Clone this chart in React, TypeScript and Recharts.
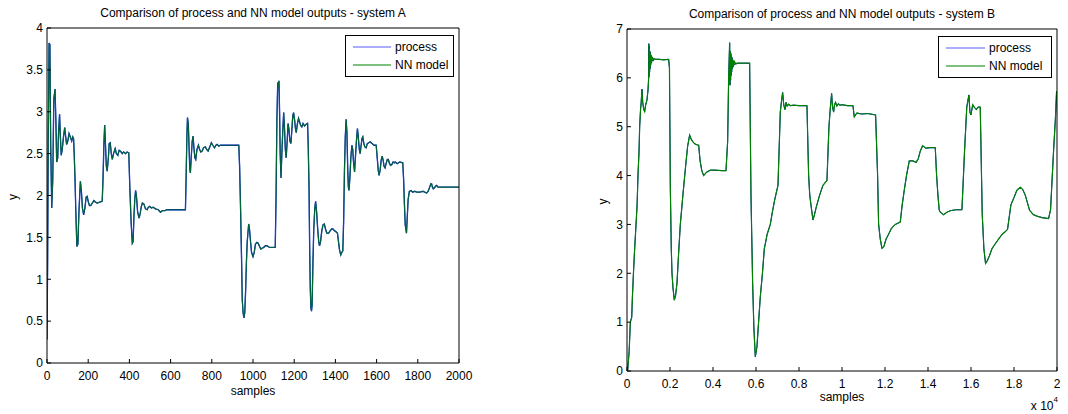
import { Label, Legend, Line, LineChart, XAxis, YAxis } from "recharts";

const FONT = "'Liberation Sans', Arial, Helvetica, sans-serif";

// system A (2000 samples)
const samplesA = [
  0, 3, 6, 10, 14, 18, 23, 28, 33, 39, 43, 47, 52, 56, 61, 65, 69, 74, 80, 86,
  90, 95, 101, 107, 113, 120, 125, 129, 132, 136, 140, 145, 150, 155, 162, 167, 172, 178, 184, 190,
  195, 200, 206, 212, 220, 228, 236, 244, 255, 268, 272, 276, 280, 284, 288, 292, 298, 302, 307, 312,
  317, 323, 331, 337, 344, 350, 357, 365, 372, 381, 389, 397, 402, 408, 414, 418, 422, 426, 430, 434,
  440, 447, 452, 458, 463, 470, 478, 486, 492, 499, 507, 515, 527, 540, 551, 560, 572, 583, 620, 650,
  672, 676, 679, 682, 686, 690, 693, 696, 700, 705, 709, 714, 718, 722, 728, 735, 741, 747, 753, 760,
  769, 775, 782, 790, 798, 805, 813, 820, 826, 834, 842, 931, 935, 940, 944, 948, 952, 956, 960, 964,
  968, 972, 979, 983, 988, 993, 1000, 1006, 1012, 1019, 1025, 1032, 1038, 1044, 1052, 1060, 1068, 1080, 1095, 1108,
  1112, 1116, 1120, 1123, 1126, 1129, 1132, 1136, 1140, 1145, 1149, 1153, 1157, 1161, 1166, 1170, 1174, 1179, 1184, 1189,
  1193, 1197, 1202, 1206, 1210, 1215, 1221, 1226, 1231, 1237, 1243, 1250, 1258, 1265, 1268, 1272, 1275, 1278, 1281, 1284,
  1287, 1291, 1295, 1300, 1304, 1309, 1314, 1319, 1323, 1328, 1334, 1340, 1346, 1352, 1358, 1367, 1375, 1382, 1388, 1395,
  1402, 1410, 1415, 1420, 1426, 1431, 1436, 1440, 1444, 1448, 1452, 1456, 1460, 1463, 1466, 1470, 1475, 1480, 1484, 1488,
  1493, 1497, 1502, 1507, 1511, 1516, 1520, 1525, 1529, 1533, 1538, 1543, 1549, 1555, 1562, 1569, 1578, 1588, 1598, 1603,
  1608, 1612, 1617, 1622, 1627, 1632, 1636, 1641, 1646, 1652, 1657, 1663, 1668, 1674, 1680, 1686, 1690, 1700, 1712, 1727,
  1731, 1735, 1739, 1742, 1745, 1749, 1753, 1759, 1767, 1775, 1785, 1795, 1810, 1825, 1843, 1850, 1858, 1863, 1867, 1871,
  1875, 1880, 1886, 1892, 1898, 1905, 1916, 1950, 2000,
];
const outputA = [
  0.28, 1.2, 2.6, 3.82, 3.8, 2.6, 1.85, 2.2, 3.15, 3.27, 2.9, 2.4, 2.45, 2.75, 2.97, 2.7, 2.48, 2.55, 2.7, 2.81,
  2.72, 2.61, 2.65, 2.74, 2.7, 2.65, 2.7, 2.68, 2.5, 2.2, 1.8, 1.39, 1.42, 1.8, 2.17, 2.05, 1.85, 1.77, 1.85, 1.98,
  1.99, 1.93, 1.88, 1.88, 1.91, 1.94, 1.92, 1.91, 1.92, 1.93, 2.2, 2.6, 2.84, 2.6, 2.35, 2.29, 2.45, 2.62, 2.63, 2.5,
  2.43, 2.5, 2.56, 2.5, 2.48, 2.54, 2.53, 2.5, 2.52, 2.5, 2.52, 2.51, 2.1, 1.7, 1.43, 1.45, 1.75, 1.95, 2.06, 2.0,
  1.8, 1.73, 1.78, 1.87, 1.91, 1.9, 1.84, 1.83, 1.86, 1.87, 1.85, 1.86, 1.84, 1.83, 1.8, 1.82, 1.82, 1.83, 1.83, 1.83,
  1.83, 2.3, 2.7, 2.93, 2.85, 2.55, 2.32, 2.27, 2.45, 2.65, 2.71, 2.55, 2.45, 2.43, 2.55, 2.6, 2.55, 2.52, 2.53, 2.57,
  2.58, 2.55, 2.53, 2.58, 2.63, 2.6, 2.57, 2.6, 2.61, 2.59, 2.6, 2.6, 2.35, 1.8, 1.3, 0.75, 0.6, 0.54, 0.6, 0.85,
  1.2, 1.45, 1.66, 1.6, 1.45, 1.32, 1.27, 1.32, 1.42, 1.44, 1.43, 1.39, 1.36, 1.37, 1.38, 1.4, 1.4, 1.38, 1.38, 1.38,
  2.0, 2.9, 3.35, 3.3, 3.37, 3.0, 2.5, 2.21, 2.5, 2.8, 2.99, 2.8, 2.55, 2.45, 2.65, 2.86, 2.8, 2.65, 2.62, 2.8,
  2.95, 2.99, 2.9, 2.8, 2.75, 2.85, 2.92, 2.88, 2.84, 2.82, 2.86, 2.83, 2.85, 2.86, 2.6, 2.1, 1.4, 0.9, 0.66, 0.62,
  0.7, 1.2, 1.6, 1.85, 1.93, 1.8, 1.6, 1.45, 1.4, 1.45, 1.58, 1.65, 1.66, 1.6, 1.55, 1.55, 1.58, 1.6, 1.6, 1.58,
  1.57, 1.55, 1.45, 1.35, 1.29, 1.32, 1.34, 1.7, 2.3, 2.7, 2.91, 2.75, 2.3, 2.1, 2.06, 2.2, 2.45, 2.6, 2.55, 2.4,
  2.28, 2.45, 2.65, 2.8, 2.7, 2.55, 2.5, 2.6, 2.68, 2.7, 2.62, 2.58, 2.57, 2.62, 2.63, 2.64, 2.62, 2.6, 2.6, 2.45,
  2.3, 2.24, 2.3, 2.42, 2.47, 2.42, 2.35, 2.33, 2.38, 2.43, 2.43, 2.38, 2.36, 2.37, 2.4, 2.39, 2.4, 2.38, 2.4, 2.39,
  2.2, 1.9, 1.65, 1.6, 1.55, 1.75, 1.95, 2.05, 2.06, 2.04, 2.05, 2.04, 2.04, 2.05, 2.03, 2.05, 2.1, 2.14, 2.14, 2.1,
  2.08, 2.09, 2.11, 2.12, 2.1, 2.1, 2.1, 2.1, 2.1,
];
const xTicksA = [0, 200, 400, 600, 800, 1000, 1200, 1400, 1600, 1800, 2000];
const yTicksA = [0, 0.5, 1, 1.5, 2, 2.5, 3, 3.5, 4];

// system B (20000 samples)
const samplesB = [
  0, 30, 100, 155, 220, 250, 300, 357, 420, 470, 512, 560, 589, 630, 660, 698, 730, 780, 822, 870,
  930, 977, 1008, 1015, 1022, 1030, 1037, 1044, 1051, 1058, 1066, 1074, 1082, 1090, 1100, 1110, 1120, 1132, 1145, 1160,
  1178, 1200, 1230, 1270, 1318, 1500, 1700, 1938, 1975, 2015, 2060, 2093, 2140, 2201, 2260, 2325, 2400, 2480, 2600, 2728,
  2820, 2914, 2980, 3050, 3147, 3250, 3333, 3400, 3480, 3565, 3700, 3875, 4100, 4418, 4604, 4681, 4728, 4774, 4790, 4805,
  4818, 4830, 4843, 4855, 4868, 4880, 4895, 4910, 4930, 4950, 4975, 5000, 5060, 5115, 5400, 5704, 5766, 5844, 5900, 5968,
  6045, 6120, 6200, 6300, 6386, 6520, 6665, 6760, 6867, 7022, 7080, 7130, 7180, 7239, 7290, 7347, 7400, 7450, 7520, 7600,
  7750, 8000, 8370, 8448, 8500, 8556, 8649, 8720, 8800, 8959, 9114, 9300, 9393, 9460, 9517, 9560, 9610, 9650, 9700, 9760,
  9830, 9900, 10000, 10250, 10509, 10571, 10640, 10695, 10900, 11200, 11563, 11656, 11703, 11780, 11858, 11950, 12050, 12168, 12300, 12478,
  12710, 12800, 12896, 13000, 13129, 13300, 13450, 13550, 13640, 13749, 13900, 14100, 14338, 14400, 14462, 14520, 14570, 14725, 14880, 15035,
  15300, 15578, 15700, 15803, 15903, 15950, 15996, 16080, 16150, 16250, 16330, 16430, 16523, 16600, 16678, 16750, 16850, 16973, 17120, 17283,
  17450, 17593, 17700, 17856, 18000, 18135, 18290, 18400, 18523, 18620, 18724, 18900, 19065, 19300, 19608, 19700, 19840, 19930, 19980, 20000,
];
const outputB = [
  0, 0.01, 0.4, 1.0, 1.1, 1.5, 2.0, 2.51, 3.0, 3.4, 4.01, 4.5, 5.0, 5.35, 5.5, 5.77, 5.5, 5.35, 5.31, 5.45,
  5.55, 5.75, 6.0, 6.7, 6.02, 6.65, 6.08, 6.6, 6.12, 6.55, 6.18, 6.52, 6.22, 6.5, 6.26, 6.47, 6.3, 6.45, 6.32, 6.42,
  6.35, 6.4, 6.36, 6.39, 6.38, 6.38, 6.37, 6.38, 6.2, 3.77, 2.5, 2.0, 1.7, 1.45, 1.55, 1.8, 2.4, 3.0, 3.6, 4.2,
  4.6, 4.83, 4.75, 4.7, 4.65, 4.63, 4.62, 4.3, 4.1, 4.0, 4.07, 4.11, 4.11, 4.1, 4.1, 4.7, 6.0, 6.72, 5.85, 6.55,
  5.95, 6.5, 6.05, 6.45, 6.12, 6.42, 6.18, 6.38, 6.22, 6.35, 6.26, 6.33, 6.28, 6.3, 6.3, 6.3, 3.6, 1.79, 0.9, 0.29,
  0.5, 1.0, 1.52, 2.0, 2.5, 2.8, 3.0, 3.25, 3.5, 3.8, 4.6, 5.3, 5.5, 5.7, 5.45, 5.35, 5.5, 5.42, 5.46, 5.43,
  5.44, 5.43, 5.43, 4.0, 3.6, 3.4, 3.09, 3.2, 3.35, 3.6, 3.8, 3.9, 5.0, 5.4, 5.68, 5.4, 5.3, 5.45, 5.5, 5.42,
  5.47, 5.44, 5.45, 5.43, 5.43, 5.2, 5.25, 5.28, 5.26, 5.27, 5.24, 4.0, 3.0, 2.7, 2.51, 2.55, 2.7, 2.8, 2.92, 3.0,
  3.05, 3.4, 3.7, 4.0, 4.3, 4.3, 4.27, 4.35, 4.5, 4.61, 4.56, 4.57, 4.57, 4.0, 3.6, 3.3, 3.25, 3.2, 3.25, 3.28,
  3.3, 3.3, 4.5, 5.4, 5.65, 5.3, 5.24, 5.45, 5.4, 5.35, 5.4, 5.4, 3.2, 2.5, 2.2, 2.25, 2.35, 2.5, 2.6, 2.7,
  2.8, 2.85, 2.9, 3.4, 3.55, 3.7, 3.76, 3.72, 3.6, 3.45, 3.29, 3.2, 3.17, 3.14, 3.12, 3.3, 4.5, 5.2, 5.72, 5.72,
];
const xTicksB = [0, 2000, 4000, 6000, 8000, 10000, 12000, 14000, 16000, 18000, 20000];
const yTicksB = [0, 1, 2, 3, 4, 5, 6, 7];

const PROCESS_COLOR = "#0000ff";
const MODEL_COLOR = "#008000";
const LEGEND_ORDER = ["process", "NN model"];

function toRows(samples: number[], ys: number[]) {
  return samples.map((s, i) => ({ sample: s, process: ys[i], model: ys[i] }));
}

const renderLegend = (width: number, lineLen: number) => (props: any) => {
  const items = [...(props.payload || [])].sort(
    (a: any, b: any) => LEGEND_ORDER.indexOf(a.value) - LEGEND_ORDER.indexOf(b.value)
  );
  return (
    <div
      style={{
        boxSizing: "border-box",
        width,
        height: 42,
        border: "1px solid #000",
        background: "#fff",
        padding: "2px 0 0 7px",
        fontFamily: FONT,
        fontSize: 12,
        color: "#000",
      }}
    >
      {items.map((p: any) => (
        <div key={p.value} style={{ display: "flex", alignItems: "center", height: 18 }}>
          <svg width={lineLen} height={4} style={{ display: "block" }}>
            <line
              x1={0}
              y1={2}
              x2={lineLen}
              y2={2}
              stroke={p.value === "process" ? "#5a5aff" : MODEL_COLOR}
              strokeWidth={1.2}
            />
          </svg>
          <span style={{ marginLeft: 4, lineHeight: "18px" }}>{p.value}</span>
        </div>
      ))}
    </div>
  );
};

const yLabel = (dx: number) => (props: any) => {
  const vb = props.viewBox;
  const cx = vb.x + dx;
  const cy = vb.y + vb.height / 2 + 1.5;
  return (
    <text
      x={cx}
      y={cy}
      transform={`rotate(-90 ${cx} ${cy})`}
      textAnchor="middle"
      dominantBaseline="central"
      fontSize={12}
      fill="#000"
    >
      y
    </text>
  );
};

const expLabel = (props: any) => {
  const vb = props.viewBox;
  return (
    <text x={vb.x + vb.width + 1} y={vb.y + 39} textAnchor="end" fontSize={12} fill="#000">
      x 10
      <tspan dy={-8} fontSize={8}>
        4
      </tspan>
    </text>
  );
};

function Panel({
  title,
  data,
  xTicks,
  yTicks,
  xMax,
  yMax,
  width,
  margin,
  xFormat,
  legendLeft,
  legendTop,
  legendWidth,
  legendLine,
  yLabelDx,
  samplesDy,
  withExp,
  processWidth,
  modelWidth,
  modelOpacity,
}: any) {
  const tickStyle = { fill: "#000", fontSize: 12 };
  return (
    <LineChart width={width} height={414} data={data} margin={margin} style={{ fontFamily: FONT }}>
      <XAxis
        dataKey="sample"
        type="number"
        domain={[0, xMax]}
        ticks={xTicks}
        allowDataOverflow
        height={30}
        tickSize={-4}
        tickMargin={12}
        tick={tickStyle}
        tickFormatter={xFormat}
        stroke="#000"
        interval={0}
      >
        <Label value="samples" position="insideBottom" offset={samplesDy} fontSize={12} fill="#000" />
        {withExp ? <Label content={expLabel} /> : null}
      </XAxis>
      <XAxis
        xAxisId="top"
        orientation="top"
        dataKey="sample"
        type="number"
        domain={[0, xMax]}
        ticks={xTicks}
        allowDataOverflow
        height={1}
        tickSize={-4}
        tick={false}
        stroke="#000"
        interval={0}
      >
        <Label value={title} position="top" offset={10} fontSize={12} fill="#000" />
      </XAxis>
      <YAxis
        type="number"
        domain={[0, yMax]}
        ticks={yTicks}
        allowDataOverflow
        width={40}
        tickSize={-4}
        tickMargin={8}
        tick={tickStyle}
        stroke="#000"
        interval={0}
      >
        <Label content={yLabel(yLabelDx)} />
      </YAxis>
      <YAxis
        yAxisId="right"
        orientation="right"
        type="number"
        domain={[0, yMax]}
        ticks={yTicks}
        allowDataOverflow
        width={1}
        tickSize={-4}
        tick={false}
        stroke="#000"
        interval={0}
      />
      <Legend
        layout="vertical"
        align="center"
        verticalAlign="middle"
        content={renderLegend(legendWidth, legendLine)}
        wrapperStyle={{ left: legendLeft, top: legendTop, width: legendWidth }}
      />
      <Line
        name="process"
        dataKey="process"
        stroke={PROCESS_COLOR}
        strokeWidth={processWidth}
        dot={false}
        type="linear"
        isAnimationActive={false}
      />
      <Line
        name="NN model"
        dataKey="model"
        stroke={MODEL_COLOR}
        strokeWidth={modelWidth}
        strokeOpacity={modelOpacity}
        dot={false}
        type="linear"
        isAnimationActive={false}
      />
    </LineChart>
  );
}

export default function App() {
  const dataA = toRows(samplesA, outputA);
  const dataB = toRows(samplesB, outputB);
  return (
    <div style={{ position: "absolute", left: 0, top: 0, width: 1068, height: 414, background: "#fff" }}>
      <div style={{ position: "absolute", left: 0, top: 0 }}>
        <Panel
          title="Comparison of process and NN model outputs - system A"
          data={dataA}
          xTicks={xTicksA}
          yTicks={yTicksA}
          xMax={2000}
          yMax={4}
          width={540}
          margin={{ top: 27, right: 80, bottom: 21, left: 7 }}
          xFormat={(v: number) => `${v}`}
          legendLeft={345}
          legendTop={35}
          legendWidth={109}
          legendLine={38}
          yLabelDx={6}
          samplesDy={-2}
          withExp={false}
          processWidth={1.3}
          modelWidth={1.1}
          modelOpacity={0.8}
        />
      </div>
      <div style={{ position: "absolute", left: 540, top: 0 }}>
        <Panel
          title="Comparison of process and NN model outputs - system B"
          data={dataB}
          xTicks={xTicksB}
          yTicks={yTicksB}
          xMax={20000}
          yMax={7}
          width={528}
          margin={{ top: 28, right: 10, bottom: 13, left: 47 }}
          xFormat={(v: number) => `${v / 10000}`}
          legendLeft={398}
          legendTop={36}
          legendWidth={114}
          legendLine={39}
          yLabelDx={16}
          samplesDy={0}
          withExp
          processWidth={1}
          modelWidth={1.2}
          modelOpacity={1}
        />
      </div>
    </div>
  );
}
